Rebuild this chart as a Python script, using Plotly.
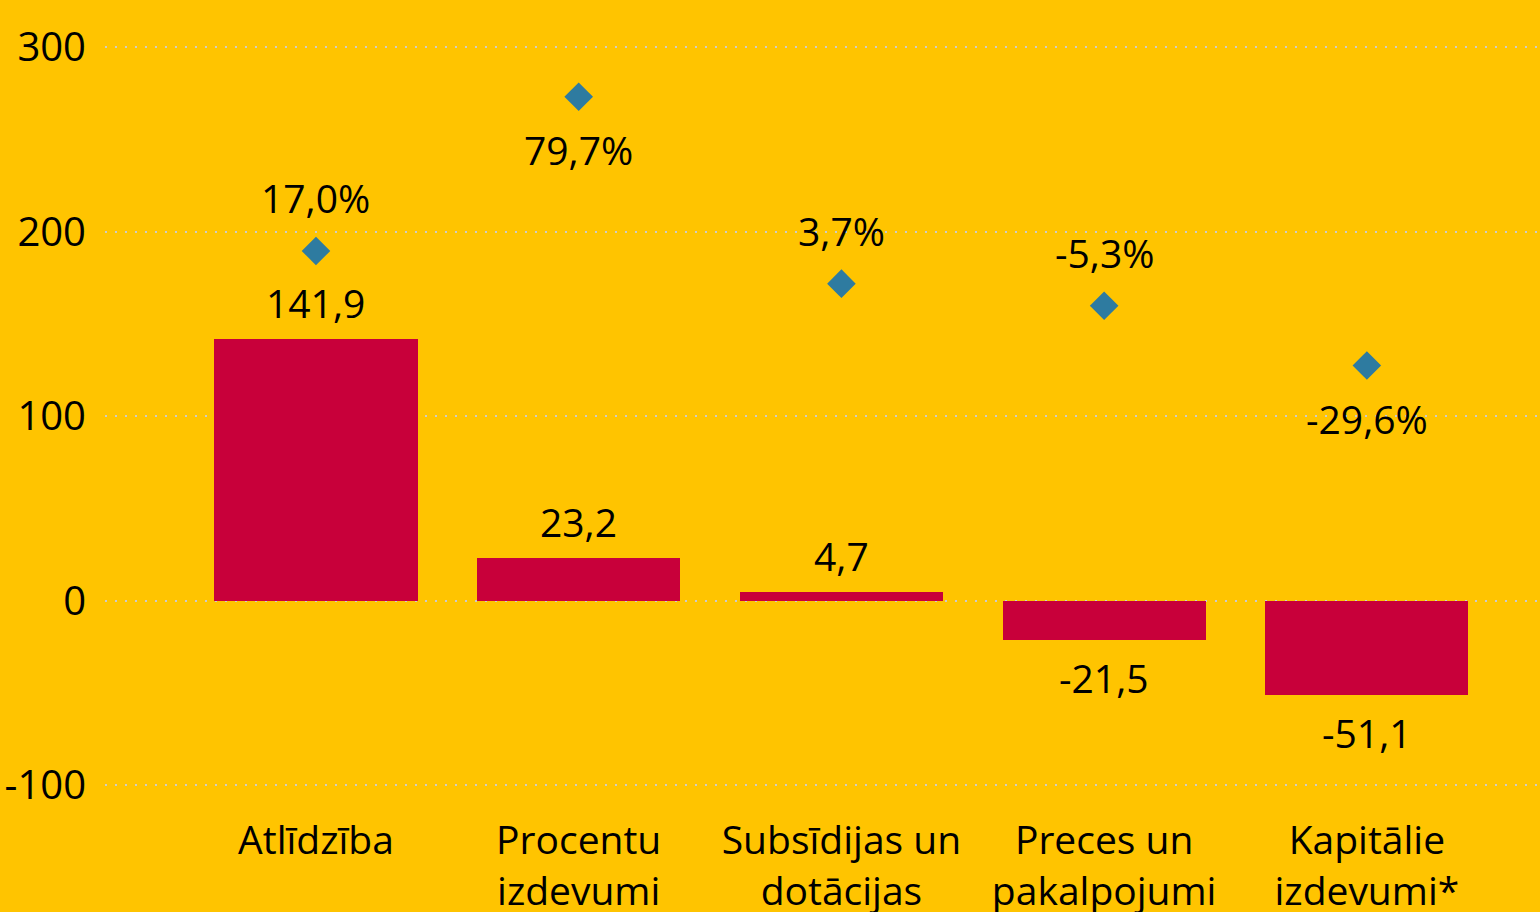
import plotly.graph_objects as go

categories = ["Atlīdzība", "Procentu<br>izdevumi", "Subsīdijas un<br>dotācijas",
              "Preces un<br>pakalpojumi", "Kapitālie<br>izdevumi*"]
bar_values = [141.9, 23.2, 4.7, -21.5, -51.1]
pct_values = [17.0, 79.7, 3.7, -5.3, -29.6]
pct_label_side = [1, -1, 1, 1, -1]
y_ticks = [-100, 0, 100, 200, 300]

BG = "#FFC400"
RED = "#C8003A"
BLUE = "#2E7BA0"
FONT = "Open Sans"

def fmt(v, suffix=""):
    return f"{v:.1f}".replace(".", ",") + suffix

y_range = [-114.5, 325.7]
# secondary axis mapping: pct = 0.75 * (y - 167)
y2_range = [(y_range[0] - 167) * 0.75, (y_range[1] - 167) * 0.75]

fig = go.Figure()
fig.add_trace(go.Bar(x=categories, y=bar_values, marker=dict(color=RED, line=dict(width=0)),
                     width=0.773, showlegend=False, hoverinfo="skip"))
fig.add_trace(go.Scatter(x=categories, y=pct_values, mode="markers", yaxis="y2",
                         marker=dict(symbol="diamond", size=22, color=BLUE),
                         showlegend=False, hoverinfo="skip"))

annotations = []
for c, v in zip(categories, bar_values):
    annotations.append(dict(x=c, y=v, xref="x", yref="y", text=fmt(v), showarrow=False,
                            yshift=37 if v >= 0 else -37,
                            font=dict(family=FONT, size=39, color="#000000")))
for c, p, s in zip(categories, pct_values, pct_label_side):
    annotations.append(dict(x=c, y=p, xref="x", yref="y2", text=fmt(p, "%"), showarrow=False,
                            yshift=53 * s,
                            font=dict(family=FONT, size=39, color="#000000")))

fig.update_layout(
    width=1540, height=912,
    paper_bgcolor=BG, plot_bgcolor=BG,
    margin=dict(l=105, r=0, t=0, b=100, autoexpand=False),
    font=dict(family=FONT, size=39, color="#000000"),
    bargap=0,
    annotations=annotations,
    xaxis=dict(range=[-0.803, 4.659], showgrid=False, zeroline=False, showline=False,
               ticks="", ticklabelstandoff=2, automargin=False,
               tickfont=dict(family=FONT, size=39, color="#000000")),
    yaxis=dict(range=y_range, tickvals=y_ticks, ticktext=[str(t) for t in y_ticks],
               showgrid=True, gridcolor="#CCCCCC", gridwidth=2, griddash="2px,8px",
               zeroline=False, showline=False, ticks="", ticklabelstandoff=18,
               automargin=False,
               tickfont=dict(family=FONT, size=40, color="#000000")),
    yaxis2=dict(range=y2_range, overlaying="y", side="right", visible=False,
                showgrid=False, zeroline=False),
)

fig.write_html("out.html", config={"displayModeBar": False},
               post_script="document.body.style.margin='0';document.body.style.overflow='hidden';")
